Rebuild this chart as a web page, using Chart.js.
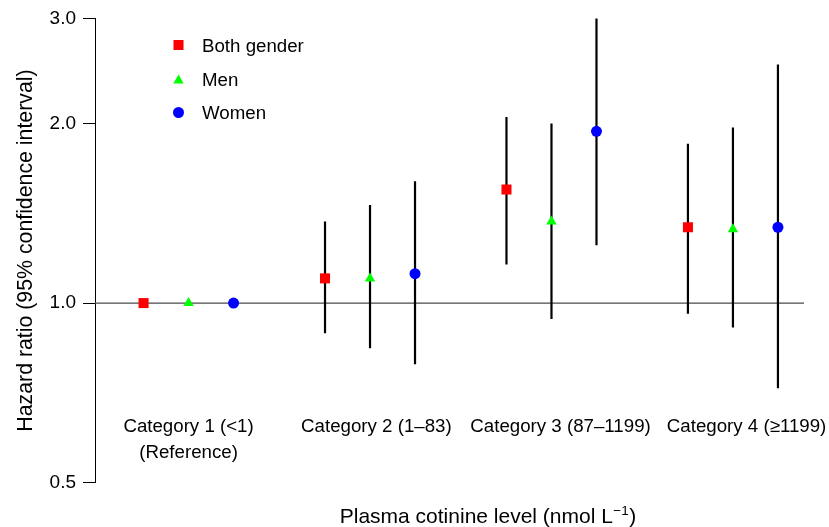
<!DOCTYPE html>
<html>
<head>
<meta charset="utf-8">
<script src="https://cdn.jsdelivr.net/npm/chart.js"></script>
<style>
  html, body { margin: 0; padding: 0; background: #fff; }
  #wrap { width: 829px; height: 527px; }
</style>
</head>
<body>
<div id="wrap"><canvas id="c" width="829" height="527"></canvas></div>
<script>
// ---- data ----
const categories = ['Category 1 (<1)', 'Category 2 (1–83)', 'Category 3 (87–1199)', 'Category 4 (≥1199)'];
const categorySub = ['(Reference)', '', '', ''];
const seriesNames = ['Both gender', 'Men', 'Women'];
const bothHR = [1.00, 1.10, 1.55, 1.34];
const bothLo = [null, 0.89, 1.16, 0.96];
const bothHi = [null, 1.37, 2.05, 1.85];
const menHR = [1.00, 1.10, 1.37, 1.33];
const menLo = [null, 0.84, 0.94, 0.91];
const menHi = [null, 1.46, 2.00, 1.97];
const womenHR = [1.00, 1.12, 1.94, 1.34];
const womenLo = [null, 0.79, 1.25, 0.72];
const womenHi = [null, 1.60, 3.00, 2.51];
const yTicks = [0.5, 1.0, 2.0, 3.0];
const refValue = 1.0;
const yTitle = 'Hazard ratio (95% confidence interval)';
const xTitleMain = 'Plasma cotinine level (nmol L';
const xTitleSup = '−1';
const xTitleEnd = ')';

// ---- layout / style ----
const FONT = '"Liberation Sans", Arial, Helvetica, sans-serif';
const X_MIN = 0.4844, X_MAX = 4.3916;
const seriesOffset = [-0.248, 0, 0.248];
const labelPos = [1.0, 2.035, 3.05, 4.075];
const colors = ['#ff0000', '#00ff00', '#0000ff'];
const styles = ['rect', 'triangle', 'circle'];
const radii = [7.1, 6.0, 5.5];

const series = [
  {hr: bothHR, lo: bothLo, hi: bothHi},
  {hr: menHR, lo: menLo, hi: menHi},
  {hr: womenHR, lo: womenLo, hi: womenHi}
];

const datasets = [];
// point markers (first = drawn on top)
series.forEach((s, k) => {
  datasets.push({
    type: 'scatter',
    label: seriesNames[k],
    data: s.hr.map((v, i) => ({x: i + 1 + seriesOffset[k], y: v})),
    pointStyle: styles[k],
    pointRadius: radii[k],
    pointHoverRadius: radii[k],
    backgroundColor: colors[k],
    borderColor: colors[k],
    pointBorderWidth: 0,
    showLine: false,
    clip: false
  });
});
// confidence intervals
series.forEach((s, k) => {
  const pts = [];
  s.hr.forEach((v, i) => {
    if (s.lo[i] == null || s.hi[i] == null) return;
    const x = i + 1 + seriesOffset[k];
    pts.push({x, y: s.lo[i]}, {x, y: s.hi[i]}, {x, y: null});
  });
  datasets.push({
    type: 'line',
    label: seriesNames[k] + ' CI',
    data: pts,
    borderColor: '#000',
    borderWidth: 2.2,
    pointRadius: 0,
    spanGaps: false,
    fill: false,
    clip: false
  });
});
// reference line
datasets.push({
  type: 'line',
  label: 'ref',
  data: [{x: X_MIN, y: refValue}, {x: X_MAX, y: refValue}],
  borderColor: '#4a4a4a',
  borderWidth: 1.4,
  pointRadius: 0,
  fill: false
});

const annot = {
  id: 'annot',
  afterDraw(chart) {
    const {ctx, chartArea, scales: {x}} = chart;
    ctx.save();
    ctx.fillStyle = '#000';
    // category labels
    ctx.font = '18.7px ' + FONT;
    ctx.textAlign = 'center';
    ctx.textBaseline = 'alphabetic';
    categories.forEach((t, i) => {
      const px = x.getPixelForValue(labelPos[i]);
      ctx.fillText(t, px, chartArea.bottom - 51);
      if (categorySub[i]) ctx.fillText(categorySub[i], px, chartArea.bottom - 25);
    });
    // x title with superscript
    ctx.textAlign = 'left';
    const fMain = '21px ' + FONT, fSup = '13.5px ' + FONT;
    ctx.font = fMain;
    const w1 = ctx.measureText(xTitleMain).width;
    const w3 = ctx.measureText(xTitleEnd).width;
    ctx.font = fSup;
    const w2 = ctx.measureText(xTitleSup).width + 1;
    const total = w1 + w2 + w3;
    const cx = chartArea.left + 393;
    const by = chart.height - 4.3;
    let sx = cx - total / 2;
    ctx.font = fMain; ctx.fillText(xTitleMain, sx, by);
    ctx.font = fSup; ctx.fillText(xTitleSup, sx + w1 + 0.5, by - 8);
    ctx.font = fMain; ctx.fillText(xTitleEnd, sx + w1 + w2, by);
    // legend
    const rows = [26.6, 60.6, 94.1];
    const mx = chartArea.left + 83.5;
    const tx = chartArea.left + 107;
    ctx.font = '18.7px ' + FONT;
    seriesNames.forEach((name, k) => {
      const ry = chartArea.top + rows[k];
      ctx.fillStyle = colors[k];
      Chart.helpers.drawPoint(ctx, {pointStyle: styles[k], radius: radii[k], rotation: 0, borderWidth: 0}, mx, ry + (k === 1 ? 1.5 : 0));
      ctx.fillStyle = '#000';
      ctx.fillText(name, tx, ry + 6.7);
    });
    ctx.restore();
  }
};

new Chart(document.getElementById('c'), {
  data: {datasets},
  options: {
    responsive: false,
    animation: false,
    devicePixelRatio: 1,
    events: [],
    layout: {padding: {left: 0, right: 25, top: 17.4, bottom: 44.3}},
    plugins: {legend: {display: false}, tooltip: {enabled: false}},
    scales: {
      x: {type: 'linear', display: false, min: X_MIN, max: X_MAX},
      y: {
        type: 'logarithmic',
        min: 0.5, max: 3.0,
        afterBuildTicks: s => { s.ticks = yTicks.map(v => ({value: v})); },
        afterFit: s => { s.width = 95; },
        ticks: {
          callback: v => Number(v).toFixed(1),
          color: '#000',
          font: {size: 19, family: FONT},
          padding: 7,
          autoSkip: false
        },
        grid: {display: true, drawOnChartArea: false, drawTicks: true, tickLength: 12, color: '#000', lineWidth: 1},
        border: {display: true, color: '#000', width: 1},
        title: {display: true, text: yTitle, color: '#000', font: {size: 21.3, family: FONT}, padding: {top: 13, bottom: 0}}
      }
    }
  },
  plugins: [annot]
});
</script>
</body>
</html>
